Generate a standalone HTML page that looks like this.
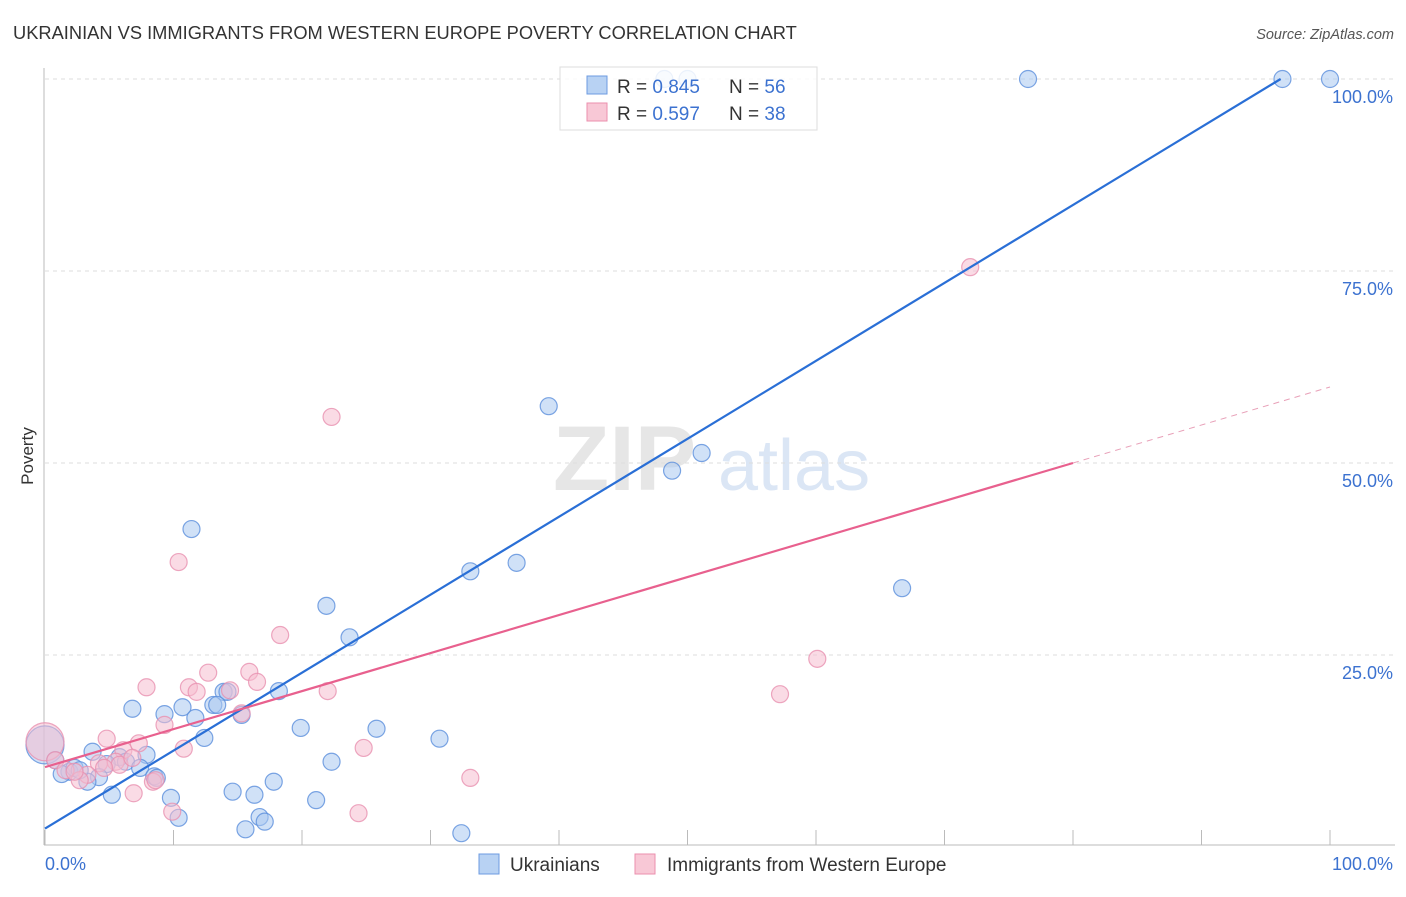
<!DOCTYPE html>
<html><head><meta charset="utf-8"><style>
body{margin:0;background:#fff;font-family:"Liberation Sans",sans-serif;}
svg text{font-family:"Liberation Sans",sans-serif;}
</style></head><body>
<svg id="chart" width="1406" height="892" viewBox="0 0 1406 892" xmlns="http://www.w3.org/2000/svg">
<text x="13" y="39" font-size="18.3" fill="#333">UKRAINIAN VS IMMIGRANTS FROM WESTERN EUROPE POVERTY CORRELATION CHART</text>
<text x="1394" y="39" font-size="14.5" fill="#555" font-style="italic" text-anchor="end">Source: ZipAtlas.com</text>
<text x="553" y="490" font-size="92" fill="#e6e6e6" font-family="Liberation Serif" font-weight="bold">ZIP</text>
<text x="718" y="490" font-size="72" fill="#dbe6f5">atlas</text>
<g id="grid"></g>
<g id="axes"></g>
<g id="points"></g>
<g id="lines"></g>
<text transform="translate(33,456) rotate(-90)" font-size="17" fill="#333" text-anchor="middle">Poverty</text>
<g>
<rect x="560" y="67" width="257" height="63" fill="#fff" fill-opacity="0.85" stroke="#ddd"/>
<rect x="587" y="76" width="20" height="18" fill="#b8d2f3" stroke="#6d9be0"/>
<rect x="587" y="103" width="20" height="18" fill="#f8c8d6" stroke="#eb8fae"/>
<text x="617" y="93" font-size="19" fill="#333">R = <tspan fill="#3c72d0">0.845</tspan></text>
<text x="729" y="93" font-size="19" fill="#333">N = <tspan fill="#3c72d0">56</tspan></text>
<text x="617" y="120" font-size="19" fill="#333">R = <tspan fill="#3c72d0">0.597</tspan></text>
<text x="729" y="120" font-size="19" fill="#333">N = <tspan fill="#3c72d0">38</tspan></text>
</g>
<g>
<rect x="479" y="854" width="20" height="20" fill="#b8d2f3" stroke="#6d9be0"/>
<text x="510" y="871" font-size="19" fill="#333">Ukrainians</text>
<rect x="635" y="854" width="20" height="20" fill="#f8c8d6" stroke="#eb8fae"/>
<text x="667" y="871" font-size="19" fill="#333">Immigrants from Western Europe</text>
</g>
</svg>
<script>
const blueX=[76.5,96.3,100,48.2,50.0,39.2,48.8,51.1,11.4,33.1,36.7,66.7,21.9,23.7,18.2,13.9,14.2,13.1,13.4,10.7,6.8,11.7,9.3,15.3,19.9,25.8,12.4,30.7,7.9,3.7,5.8,6.3,4.8,7.4,22.3,4.2,8.5,8.7,3.3,1.9,1.3,17.8,5.2,14.6,16.3,9.8,21.1,10.4,16.7,17.1,15.6,32.4,0,0.8,2.3,2.7];
const blueY=[100,100,100,100,100,57.4,49.0,51.3,41.4,35.9,37.0,33.7,31.4,27.3,20.3,20.2,20.2,18.5,18.5,18.2,18.0,16.8,17.3,17.2,15.5,15.4,14.2,14.1,12.0,12.4,11.7,11.1,10.8,10.3,11.1,9.1,9.2,9.0,8.5,9.8,9.5,8.5,6.8,7.2,6.8,6.4,6.1,3.8,3.9,3.3,2.3,1.8,13.3,11.3,10.3,10.0];
const pinkX=[72.0,22.3,10.4,18.3,60.1,57.2,12.7,15.9,7.9,11.2,11.8,14.4,16.5,22.0,15.3,9.3,4.8,7.3,10.8,6.1,24.8,4.2,5.5,3.3,2.7,6.9,8.4,8.6,33.1,9.9,24.4,0,0.8,1.6,2.3,5.8,4.6,6.8];
const pinkY=[75.5,56.0,37.1,27.6,24.5,19.9,22.7,22.8,20.8,20.8,20.2,20.4,21.5,20.3,17.4,15.9,14.1,13.5,12.8,12.6,12.9,10.9,11.1,9.4,8.7,7.0,8.5,8.7,9.0,4.6,4.4,13.7,11.3,10.0,9.8,10.7,10.3,11.6];
const blueFit=[2.4,1.015];
const pinkFit=[10.4,0.495];
const yTicks=[25,50,75,100];
const yTickLabels=["25.0%","50.0%","75.0%","100.0%"];
const xTicks=[0,10,20,30,40,50,60,70,80,90,100];
const NS="http://www.w3.org/2000/svg";
const sx=v=>45+v*12.85, sy=v=>847-v*7.68;
function mk(tag,attrs,parent){const e=document.createElementNS(NS,tag);for(const k in attrs)e.setAttribute(k,attrs[k]);document.getElementById(parent).appendChild(e);return e;}
yTicks.forEach((t,i)=>{
 const g=mk('line',{x1:45,x2:1395,y1:sy(t),y2:sy(t),stroke:'#ddd','stroke-dasharray':'4 4'},'grid');
 
 
 const l=mk('text',{x:1393,y:sy(t)+24,'font-size':18,fill:'#3c72d0','text-anchor':'end'},'grid');
 l.textContent=yTickLabels[i];
 
 
});
const ax=mk('line',{x1:44,x2:44,y1:68,y2:845,stroke:'#bbb'},'axes');


const bx=mk('line',{x1:44,x2:1395,y1:845,y2:845,stroke:'#bbb'},'axes');


xTicks.forEach(t=>{
 const k=mk('line',{x1:sx(t),x2:sx(t),y1:830,y2:845,stroke:'#bbb'},'axes');
 
 
});
[[0,'0.0%','start',45],[100,'100.0%','end',1393]].forEach(a=>{
 const l=mk('text',{x:a[3],y:870,'font-size':18,fill:'#3c72d0','text-anchor':a[2]},'axes');
 l.textContent=a[1];
 
 
});
function dots(X,Y,fill,stroke,name){X.forEach((x,i)=>{
 const big=(x===0);
 const c=mk('circle',{cx:sx(x),cy:sy(Y[i]),r:big?19:8.5,fill:fill,'fill-opacity':0.55,stroke:stroke,'stroke-opacity':0.8,'stroke-width':1.2},'points');
 
 
});}
dots(blueX,blueY,'#a9c8f0','#5b8fdc','ukrainian-point');
dots(pinkX,pinkY,'#f6bdd0','#e891b0','immigrant-point');
const bxEnd=(100-blueFit[0])/blueFit[1];
const bl=mk('line',{x1:sx(0),y1:sy(blueFit[0]),x2:sx(bxEnd),y2:sy(100),stroke:'#2a6fd6','stroke-width':2.2},'lines');


const pl=mk('line',{x1:sx(0),y1:sy(pinkFit[0]),x2:sx(80),y2:sy(pinkFit[0]+80*pinkFit[1]),stroke:'#e8608e','stroke-width':2.2},'lines');


const pd=mk('line',{x1:sx(80),y1:sy(pinkFit[0]+80*pinkFit[1]),x2:sx(100),y2:sy(pinkFit[0]+100*pinkFit[1]),stroke:'#e8a0b8','stroke-width':1,'stroke-dasharray':'6 5'},'lines');


</script>
</body></html>
